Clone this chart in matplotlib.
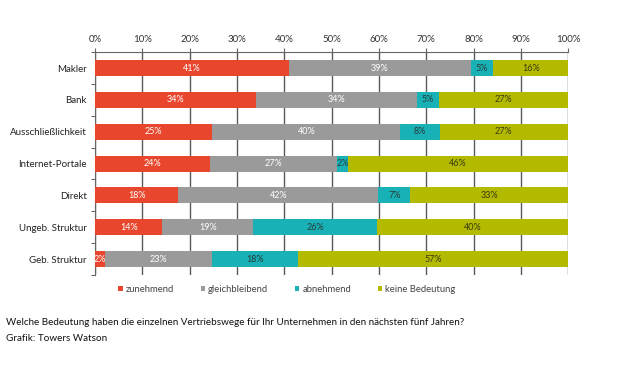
import matplotlib
matplotlib.use("Agg")
import matplotlib.pyplot as plt
import numpy as np

plt.rcParams['font.family'] = ['Lato', 'DejaVu Sans']

categories = ["Makler", "Bank", "Ausschließlichkeit", "Internet-Portale", "Direkt",
              "Ungeb. Struktur", "Geb. Struktur"]
series_names = ["zunehmend", "gleichbleibend", "abnehmend", "keine Bedeutung"]
zunehmend = [40.9, 34.0, 24.8, 24.3, 17.6, 14.2, 2.2]
gleichbleibend = [38.6, 34.0, 39.7, 26.8, 42.3, 19.2, 22.6]
abnehmend = [4.6, 4.7, 8.3, 2.4, 6.7, 26.2, 18.2]
keine_bedeutung = [15.9, 27.3, 27.2, 46.5, 33.4, 40.4, 57.0]
xticks_pct = [0, 10, 20, 30, 40, 50, 60, 70, 80, 90, 100]

colors = ["#E8472E", "#9A9A9A", "#17B1B6", "#B3BA00"]
label_colors = ["white", "white", "#2A3A3A", "#3A3A10"]

fig = plt.figure(figsize=(6.21, 3.83), dpi=100)
ax = fig.add_axes([0.153, 0.282, 0.762, 0.582])

data = [zunehmend, gleichbleibend, abnehmend, keine_bedeutung]
y = np.arange(len(categories))
left = np.zeros(len(categories))
handles = []
for vals, name, c, lc in zip(data, series_names, colors, label_colors):
    vals = np.array(vals)
    h = ax.barh(y, vals, left=left, height=0.5, color=c, label=name, zorder=3)
    handles.append(h)
    for yi, (l, v) in enumerate(zip(left, vals)):
        ax.text(l + v / 2, yi, f"{v:.0f}%", ha="center", va="center",
                fontsize=6.5, color=lc, zorder=4)
    left = left + vals

ax.set_xlim(0, 100)
ax.set_ylim(len(categories) - 0.5, -0.5)
ax.set_xticks(xticks_pct)
ax.set_xticklabels([f"{t}%" for t in xticks_pct], fontsize=7, color="#333333")
ax.xaxis.tick_top()
ax.tick_params(axis="x", length=3, width=0.8, color="#666666", pad=3)
ax.grid(axis="x", color="#5a5a5a", linewidth=1.0, zorder=0)

ax.set_yticks(y)
ax.set_yticklabels(categories, fontsize=7, color="#222222")
ax.set_yticks(np.arange(-0.5, len(categories)), minor=True)
ax.tick_params(axis="y", which="major", length=0, pad=6)
ax.tick_params(axis="y", which="minor", length=3, width=0.8, color="#666666")

for s in ["right", "bottom"]:
    ax.spines[s].set_visible(False)
ax.spines["left"].set_color("#666666")
ax.spines["top"].set_color("#666666")
ax.spines["left"].set_linewidth(0.8)
ax.spines["top"].set_linewidth(0.8)

leg = fig.legend(handles=handles, labels=series_names, loc="center",
                 bbox_to_anchor=(0.462, 0.245), ncol=4, frameon=False,
                 fontsize=6.8, handlelength=0.45, handleheight=0.45,
                 handletextpad=0.35, columnspacing=2.8)
for t in leg.get_texts():
    t.set_color("#444444")

fig.text(0.01, 0.157, "Welche Bedeutung haben die einzelnen Vertriebswege für Ihr Unternehmen in den nächsten fünf Jahren?",
         fontsize=7.1, color="#111111", va="center")
fig.text(0.01, 0.117, "Grafik: Towers Watson", fontsize=7.1, color="#111111", va="center")

fig.savefig("out.png", dpi=100)
